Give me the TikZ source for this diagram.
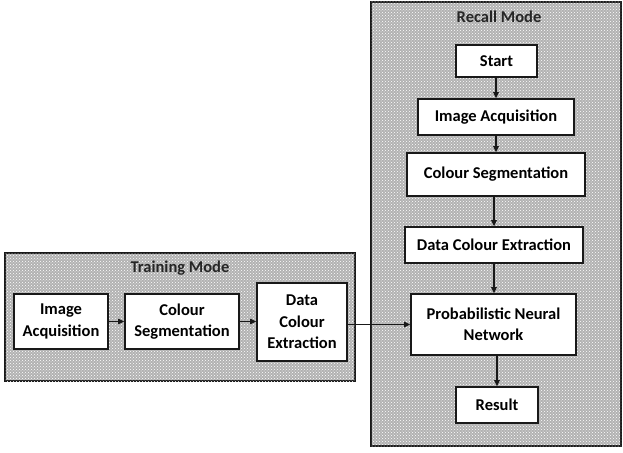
\documentclass[tikz,border=0pt]{standalone}
\usepackage{fontspec}
\setmainfont{Carlito}
\usetikzlibrary{patterns,arrows.meta}
\begin{document}
\begin{tikzpicture}[x=1pt,y=-1pt,
  panel/.style={draw=black!90,line width=1.6pt,fill=black!30},
  stepbox/.style={draw=black!90,line width=1.6pt,fill=white,align=center,
    font=\fontsize{16.5}{19.5}\selectfont\bfseries,inner sep=0pt},
  title/.style={font=\fontsize{16.5}{19.5}\selectfont\bfseries,text=black!85},
  flow/.style={-{Triangle[length=6pt,width=5.5pt]},line width=1.2pt,black!90}]
\useasboundingbox (0,0) rectangle (623,452);
% panels
\draw[panel] (5,253) rectangle (355,381);
\fill[pattern=crosshatch dots,pattern color=white] (5,253) rectangle (355,381);
\draw[panel] (371,2) rectangle (621,446);
\fill[pattern=crosshatch dots,pattern color=white] (371,2) rectangle (621,446);
\node[title] (tt) at (180,268) {Training Mode};
\node[title] (rt) at (499,17) {Recall Mode};
% training boxes
\node[stepbox,minimum width=94pt,minimum height=55pt] (ia1) at (61,321.5) {Image\\[2pt]Acquisition};
\node[stepbox,minimum width=114pt,minimum height=55pt] (cs1) at (182,321.5) {Colour\\[2pt]Segmentation};
\node[stepbox,minimum width=90pt,minimum height=78pt] (dce1) at (302,322) {Data\\[2pt]Colour\\[2pt]Extraction};
% recall boxes
\node[stepbox,minimum width=81pt,minimum height=32pt] (st) at (496.5,61) {Start};
\node[stepbox,minimum width=156pt,minimum height=36pt] (ia2) at (496,117) {Image Acquisition};
\node[stepbox,minimum width=178pt,minimum height=43pt] (cs2) at (496,174.5) {Colour Segmentation};
\node[stepbox,minimum width=178pt,minimum height=36pt] (dce2) at (494,245) {Data Colour Extraction};
\node[stepbox,minimum width=165pt,minimum height=61pt] (pnn) at (493.5,324.5) {Probabilistic Neural\\[2pt]Network};
\node[stepbox,minimum width=82pt,minimum height=36pt] (res) at (497,405) {Result};
% connectors
\draw[flow] (ia1) -- (cs1);
\draw[flow] (cs1.east) -- (cs1.east -| dce1.west);
\draw[flow] (dce1.east |- pnn.west) -- (pnn.west);
\draw[flow] (st.south -| ia2.north) -- (ia2.north);
\draw[flow] (ia2) -- (cs2);
\draw[flow] (cs2.south -| dce2.north) -- (dce2.north);
\draw[flow] (dce2.south) -- (dce2.south |- pnn.north);
\draw[flow] (pnn.south -| res.north) -- (res.north);
\end{tikzpicture}
\end{document}
